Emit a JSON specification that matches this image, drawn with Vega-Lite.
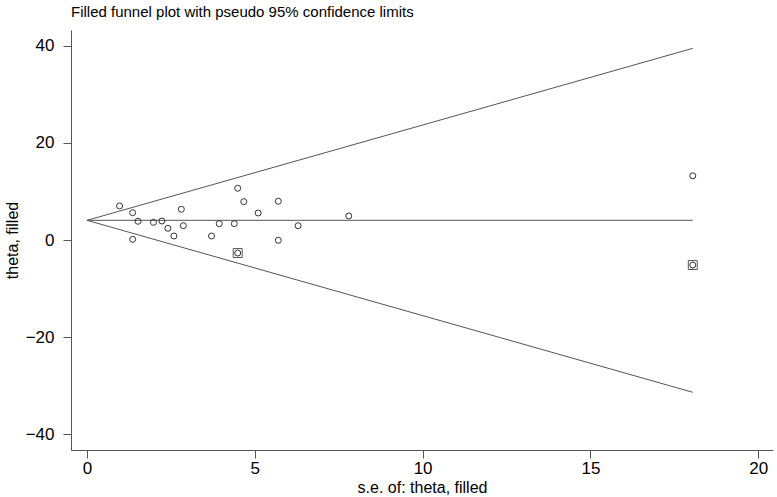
{
  "$schema": "https://vega.github.io/schema/vega-lite/v6.json",
  "width": 702,
  "height": 420,
  "autosize": "none",
  "padding": {"left": 71, "top": 30, "right": 4, "bottom": 47},
  "background": "white",
  "config": {
    "font": "Liberation Sans",
    "view": {"stroke": null},
    "axis": {"grid": false, "domainColor": "#555", "tickColor": "#555", "tickSize": 8, "labelColor": "#000", "titleColor": "#000", "labelFontSize": 17, "titleFontSize": 16, "titleFontWeight": "normal", "labelFont": "Liberation Sans", "titleFont": "Liberation Sans"}
  },
  "title": {"text": "Filled funnel plot with pseudo 95% confidence limits", "anchor": "start", "frame": "group", "fontSize": 15, "fontWeight": "normal", "color": "#000", "font": "Liberation Sans", "baseline": "alphabetic", "offset": 14, "dy": 16},
  "datasets": {
    "lines": [
      {"se": 0, "theta": 4.05, "series": "upper"},
      {"se": 18.05, "theta": 39.43, "series": "upper"},
      {"se": 0, "theta": 4.05, "series": "lower"},
      {"se": 18.05, "theta": -31.33, "series": "lower"},
      {"se": 0, "theta": 4.05, "series": "center"},
      {"se": 18.05, "theta": 4.05, "series": "center"}
    ],
    "studies": [
      {"se": 0.97, "theta": 7.0},
      {"se": 1.36, "theta": 5.62},
      {"se": 1.52, "theta": 3.85},
      {"se": 1.98, "theta": 3.64},
      {"se": 2.23, "theta": 3.91},
      {"se": 2.41, "theta": 2.41},
      {"se": 2.59, "theta": 0.82},
      {"se": 2.81, "theta": 6.32},
      {"se": 2.87, "theta": 2.94},
      {"se": 1.36, "theta": 0.14},
      {"se": 3.71, "theta": 0.82},
      {"se": 3.94, "theta": 3.36},
      {"se": 4.39, "theta": 3.36},
      {"se": 4.49, "theta": 10.64},
      {"se": 4.67, "theta": 7.89},
      {"se": 5.10, "theta": 5.56},
      {"se": 5.70, "theta": 7.97},
      {"se": 5.70, "theta": -0.06},
      {"se": 6.29, "theta": 2.94},
      {"se": 7.80, "theta": 4.94},
      {"se": 18.05, "theta": 13.2},
      {"se": 4.49, "theta": -2.68},
      {"se": 18.05, "theta": -5.15}
    ],
    "filled": [
      {"se": 4.49, "theta": -2.68},
      {"se": 18.05, "theta": -5.15}
    ]
  },
  "layer": [
    {
      "data": {"name": "lines"},
      "mark": {"type": "line", "color": "#555", "strokeWidth": 1},
      "encoding": {
        "x": {"field": "se", "type": "quantitative", "scale": {"domain": [-0.477, 20.44], "nice": false, "zero": false},
              "axis": {"values": [0, 5, 10, 15, 20], "title": "s.e. of: theta, filled", "labelPadding": 2, "titleBaseline": "middle", "titleY": 37}},
        "y": {"field": "theta", "type": "quantitative", "scale": {"domain": [-43.2, 43.2], "nice": false, "zero": false},
              "axis": {"values": [-40, -20, 0, 20, 40], "title": "theta, filled", "labelPadding": 9, "titleX": -59, "titleY": 210, "titleAngle": -90, "titleBaseline": "middle", "titleAlign": "center"}},
        "detail": {"field": "series"}
      }
    },
    {
      "data": {"name": "studies"},
      "mark": {"type": "point", "shape": "circle", "filled": false, "color": "#333", "strokeWidth": 1, "size": 36, "opacity": 1},
      "encoding": {
        "x": {"field": "se", "type": "quantitative"},
        "y": {"field": "theta", "type": "quantitative"}
      }
    },
    {
      "data": {"name": "filled"},
      "mark": {"type": "point", "shape": "square", "filled": false, "color": "#555", "strokeWidth": 1, "size": 80, "opacity": 1},
      "encoding": {
        "x": {"field": "se", "type": "quantitative"},
        "y": {"field": "theta", "type": "quantitative"}
      }
    }
  ]
}
